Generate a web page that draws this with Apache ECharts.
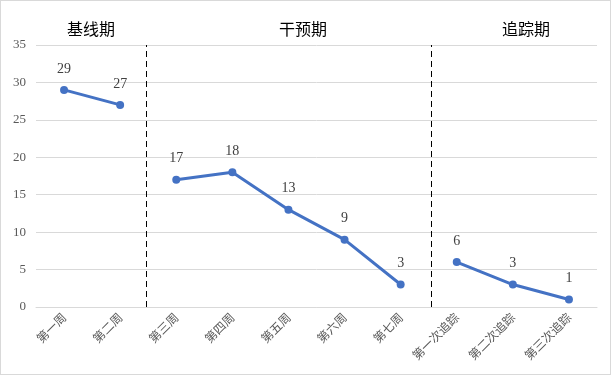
<!DOCTYPE html>
<html>
<head>
<meta charset="utf-8">
<script src="https://cdn.jsdelivr.net/npm/echarts@6/dist/echarts.min.js"></script>
<style>
html,body{margin:0;padding:0;background:#fff;}
#c{width:611px;height:375px;box-sizing:border-box;border:1px solid #d9d9d9;}
</style>
</head>
<body>
<div id="c"></div>
<script>
var categories = ['第一周','第二周','第三周','第四周','第五周','第六周','第七周','第一次追踪','第二次追踪','第三次追踪'];
var baselineValues = [29, 27];
var interventionValues = [17, 18, 13, 9, 3];
var followupValues = [6, 3, 1];
var phaseNames = ['基线期', '干预期', '追踪期'];
var phaseDividers = [1.955, 7.036];
var yTicks = [0, 5, 10, 15, 20, 25, 30, 35];

function pad(values, start) {
  var out = [];
  for (var i = 0; i < categories.length; i++) {
    var j = i - start;
    out.push(j >= 0 && j < values.length ? values[j] : '-');
  }
  return out;
}

var chart = echarts.init(document.getElementById('c'), null, {renderer: 'canvas'});
var color = '#4472C4';
function lineSeries(data) {
  return {
    type: 'line',
    data: data,
    xAxisIndex: 0,
    yAxisIndex: 0,
    symbol: 'circle',
    symbolSize: 8,
    lineStyle: {width: 3, color: color},
    itemStyle: {color: color},
    label: {
      show: true, position: 'top', distance: 10,
      color: '#404040', fontFamily: 'Liberation Serif', fontSize: 14
    },
    silent: true,
    animation: false
  };
}

var option = {
  animation: false,
  grid: {left: 35, right: 13, top: 44, bottom: 67},
  xAxis: [{
    type: 'category',
    data: categories,
    boundaryGap: true,
    axisLine: {show: true, lineStyle: {color: '#d9d9d9', width: 1}},
    axisTick: {show: false},
    axisLabel: {rotate: 45, margin: 8, color: '#595959', fontSize: 12, fontFamily: 'Noto Sans CJK SC', interval: 0}
  }, {
    type: 'value', min: 0, max: 10, show: false
  }],
  yAxis: {
    type: 'value', min: yTicks[0], max: yTicks[yTicks.length - 1], interval: 5,
    axisLine: {show: false}, axisTick: {show: false},
    splitLine: {lineStyle: {color: '#d9d9d9', width: 1}},
    axisLabel: {color: '#595959', fontSize: 13, fontFamily: 'Liberation Serif', margin: 10}
  },
  series: [
    lineSeries(pad(baselineValues, 0)),
    lineSeries(pad(interventionValues, 2)),
    lineSeries(pad(followupValues, 7)),
    {
      type: 'line', xAxisIndex: 1, yAxisIndex: 0, data: [],
      markLine: {
        silent: true, symbol: 'none', animation: false,
        label: {show: false},
        lineStyle: {color: '#000', width: 1, type: [6, 4]},
        data: phaseDividers.map(function (v) { return {xAxis: v}; })
      }
    }
  ],
  graphic: [
    {type: 'text', x: 90, y: 27.5, style: {text: phaseNames[0], fill: '#000', font: '16px "Noto Sans CJK SC"', textAlign: 'center', textVerticalAlign: 'middle'}},
    {type: 'text', x: 302, y: 27.5, style: {text: phaseNames[1], fill: '#000', font: '16px "Noto Sans CJK SC"', textAlign: 'center', textVerticalAlign: 'middle'}},
    {type: 'text', x: 525, y: 27.5, style: {text: phaseNames[2], fill: '#000', font: '16px "Noto Sans CJK SC"', textAlign: 'center', textVerticalAlign: 'middle'}}
  ]
};
chart.setOption(option);
</script>
</body>
</html>
